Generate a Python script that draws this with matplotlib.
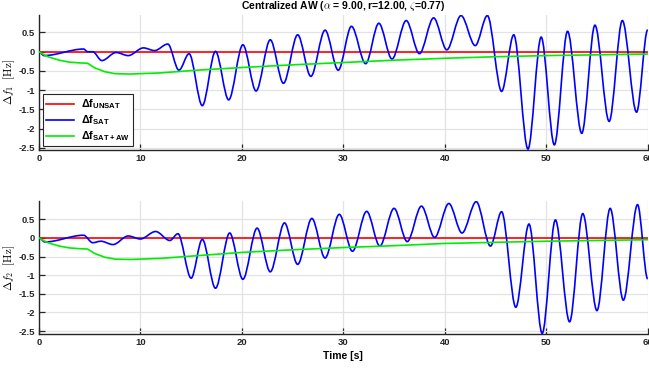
#!/usr/bin/python

import matplotlib
matplotlib.use("Agg")
import matplotlib.pyplot as plt
from matplotlib.path import Path
from matplotlib.patches import PathPatch
from matplotlib.lines import Line2D

plt.rcParams['font.family'] = ['Liberation Sans', 'DejaVu Sans']
plt.rcParams['mathtext.fontset'] = 'custom'
plt.rcParams['mathtext.rm'] = 'Liberation Sans'
plt.rcParams['mathtext.bf'] = 'Liberation Sans:bold'

# Frequency deviation, area 1: turning points of the saturated response
t1_sat = [0, 0.5, 4.4, 4.8, 5.3, 6.2, 7.6, 8.8, 10.3, 11.4,
          12.7, 13.8, 14.8, 16.1, 17.4, 18.7, 20.1, 21.4, 22.8, 24.1,
          25.5, 26.8, 28.2, 29.5, 30.8, 32.2, 33.5, 34.8, 36.2, 37.5,
          38.9, 40.2, 41.6, 43.0, 44.2, 45.6, 46.8, 48.2, 49.5, 50.8,
          52.1, 53.5, 54.8, 56.2, 57.5, 58.9, 60.0]
f1_sat = [0, -0.1, 0.07, 0.0, 0.0, -0.23, -0.02, -0.1, 0.1, 0.03,
          0.2, -0.48, -0.05, -1.4, 0.01, -1.25, 0.18, -1.02, 0.31, -0.82,
          0.44, -0.64, 0.56, -0.48, 0.66, -0.31, 0.74, -0.19, 0.81, -0.05,
          0.88, 0.05, 0.94, 0.16, 0.94, -1.03, 0.44, -2.53, 0.38, -2.42,
          0.53, -2.12, 0.69, -1.81, 0.81, -1.57, 0.57]

# Frequency deviation, area 2
t2_sat = [0, 0.6, 4.4, 5.3, 6.1, 7.3, 8.8, 10.0, 11.5, 12.9,
          13.7, 15.0, 16.1, 17.4, 18.8, 20.1, 21.5, 22.8, 24.2, 25.5,
          26.9, 28.2, 29.6, 30.9, 32.3, 33.6, 35.0, 36.3, 37.7, 39.0,
          40.4, 41.7, 43.1, 44.5, 45.6, 47.0, 48.3, 49.6, 50.9, 52.3,
          53.6, 55.0, 56.3, 57.6, 59.0, 60.0]
f2_sat = [0, -0.11, 0.07, -0.13, -0.09, -0.18, 0.05, -0.03, 0.17, -0.07,
          0.11, -1.08, -0.04, -1.35, 0.13, -1.11, 0.26, -0.91, 0.4, -0.71,
          0.52, -0.54, 0.63, -0.36, 0.71, -0.22, 0.79, -0.1, 0.85, 0.01,
          0.92, 0.13, 0.97, -0.22, 0.7, -1.86, 0.37, -2.56, 0.48, -2.25,
          0.65, -1.95, 0.79, -1.67, 0.89, -1.1]

# Saturated with anti-windup
t_aw = [0, 0.5, 1, 2, 3, 4, 4.8, 5.5, 6.5, 7.5, 9, 12, 15, 20, 25, 30,
        35, 40, 45, 50, 55, 60]
f1_aw = [0, -0.08, -0.14, -0.22, -0.27, -0.29, -0.3, -0.42, -0.52, -0.57,
         -0.58, -0.55, -0.49, -0.41, -0.34, -0.28, -0.22, -0.17, -0.13,
         -0.1, -0.08, -0.06]
f2_aw = [0, -0.08, -0.14, -0.22, -0.27, -0.29, -0.3, -0.42, -0.52, -0.57,
         -0.58, -0.55, -0.49, -0.39, -0.32, -0.26, -0.21, -0.15, -0.12,
         -0.09, -0.07, -0.05]

# Unsaturated response stays at zero
t_unsat = [0, 60]
f_unsat = [0, 0]

xticks = [0, 10, 20, 30, 40, 50, 60]
yticks = [-2.5, -2, -1.5, -1, -0.5, 0, 0.5]
title = r'Centralized AW ($\alpha$ = 9.00, r=12.00, $\zeta$=0.77)'
labels = [r'Δf$_{\mathbf{UNSAT}}$', r'Δf$_{\mathbf{SAT}}$', r'Δf$_{\mathbf{SAT+AW}}$']


def smooth_path(t, v):
    """ Cubic segments with flat tangents at each turning point """
    verts = [(t[0], v[0])]
    codes = [Path.MOVETO]
    for i in range(1, len(t)):
        dt = t[i] - t[i - 1]
        verts += [(t[i - 1] + dt / 3, v[i - 1]), (t[i] - dt / 3, v[i]), (t[i], v[i])]
        codes += [Path.CURVE4] * 3
    return Path(verts, codes)


def style_axes(ax, ymin, ymax):
    ax.set_xlim(0, 60)
    ax.set_ylim(ymin, ymax)
    ax.set_xticks(xticks)
    ax.set_yticks(yticks)
    ax.set_yticklabels(['-2.5', '-2', '-1.5', '-1', '-0.5', '0', '0.5'])
    ax.grid(True, color='#e3e3e3', linewidth=0.9)
    ax.set_axisbelow(True)
    for side in ['top', 'right']:
        ax.spines[side].set_visible(False)
    for side in ['left', 'bottom']:
        ax.spines[side].set_color('#262626')
        ax.spines[side].set_linewidth(1.0)
    ax.tick_params(direction='in', length=4, width=0.9, colors='#262626',
                   labelsize=6.8, pad=3)
    for lab in ax.get_xticklabels() + ax.get_yticklabels():
        lab.set_fontweight('bold')


fig = plt.figure(figsize=(6.49, 3.70), dpi=100)
ax1 = fig.add_axes([0.060, 0.595, 0.938, 0.365])
ax2 = fig.add_axes([0.060, 0.097, 0.938, 0.360])

panels = [(ax1, t1_sat, f1_sat, f1_aw, r'$\Delta f_1\ \ [\mathrm{Hz}]$'),
          (ax2, t2_sat, f2_sat, f2_aw, r'$\Delta f_2\ \ [\mathrm{Hz}]$')]

for ax, ts, fs, fa, ylab in panels:
    ax.plot(t_unsat, f_unsat, color='#ff0000', lw=1.2, zorder=3)
    ax.add_patch(PathPatch(smooth_path(ts, fs), facecolor='none',
                           edgecolor='#0000ff', lw=1.2, zorder=4))
    ax.plot(t_aw, fa, color='#00ee00', lw=1.2, zorder=5)
    style_axes(ax, min(fs) - 0.02, max(fs) + 0.02)
    ax.set_ylabel(ylab, fontsize=8, math_fontfamily='cm')
    ax.yaxis.set_label_coords(-0.036, 0.5)

ax1.set_title(title, fontsize=7.5, fontweight='bold', math_fontfamily='cm', pad=4)
ax2.set_xlabel('Time [s]', fontsize=7.5, fontweight='bold', labelpad=3)

handles = [Line2D([], [], color='#ff0000', lw=1.2),
           Line2D([], [], color='#0000ff', lw=1.2),
           Line2D([], [], color='#00ee00', lw=1.2)]
leg = ax1.legend(handles, labels, loc='lower left', bbox_to_anchor=(0.006, 0.025),
                 fancybox=False, framealpha=1, edgecolor='#262626',
                 prop={'size': 7.8, 'weight': 'bold'}, handlelength=2.6,
                 borderpad=0.3, labelspacing=0.2, handletextpad=0.6,
                 borderaxespad=0)
leg.get_frame().set_linewidth(0.8)

fig.savefig('out.png', dpi=100)
